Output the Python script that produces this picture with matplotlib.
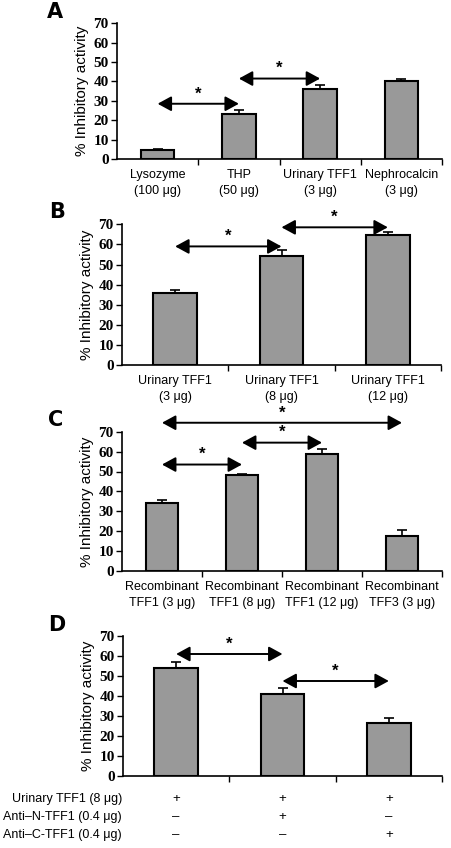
import numpy as np
import matplotlib as mpl
mpl.use('Agg')
import matplotlib.pyplot as plt

# ---- data ----
a_labels = ['Lysozyme\n(100 μg)', 'THP\n(50 μg)', 'Urinary TFF1\n(3 μg)', 'Nephrocalcin\n(3 μg)']
a_vals = [4.5, 23, 36, 40]
a_err = [0.5, 2.5, 2, 1.5]
a_sig = [(0, 1, 28.5), (1, 2, 41.5)]

b_labels = ['Urinary TFF1\n(3 μg)', 'Urinary TFF1\n(8 μg)', 'Urinary TFF1\n(12 μg)']
b_vals = [36, 54, 64.5]
b_err = [1.5, 3, 1.5]
b_sig = [(0, 1, 59), (1, 2, 68.5)]

c_labels = ['Recombinant\nTFF1 (3 μg)', 'Recombinant\nTFF1 (8 μg)',
            'Recombinant\nTFF1 (12 μg)', 'Recombinant\nTFF3 (3 μg)']
c_vals = [34, 48, 59, 17.5]
c_err = [1.5, 0.7, 2.5, 3]
c_sig = [(0, 1, 53.5), (1, 2, 64.5), (0, 3, 74.5)]

d_vals = [54, 41, 26.5]
d_err = [3, 3, 2.5]
d_sig = [(0, 1, 61), (1, 2, 47.5)]
d_rows = ['Urinary TFF1 (8 μg)', 'Anti–N-TFF1 (0.4 μg)', 'Anti–C-TFF1 (0.4 μg)']
d_table = [['+', '+', '+'], ['–', '+', '–'], ['–', '–', '+']]

W, H = 451, 848
fig = plt.figure(figsize=(W / 100, H / 100), dpi=100)

def px_axes(left, right, top, bottom):
    return fig.add_axes([left / W, 1 - bottom / H, (right - left) / W, (bottom - top) / H])

def panel(ax, vals, err, sig, labels, width):
    n = len(vals)
    x = np.arange(n)
    ax.bar(x, vals, width=width, color='#999999', edgecolor='black', linewidth=1.5, zorder=2)
    ax.errorbar(x, vals, yerr=[np.zeros(n), err], fmt='none', ecolor='black',
                elinewidth=1.2, capsize=3.5, capthick=1.2, zorder=3)
    ax.set_xlim(-0.5, n - 0.5)
    ax.set_ylim(0, 70)
    ax.set_yticks(range(0, 71, 10))
    ax.set_yticklabels([str(v) for v in range(0, 71, 10)],
                       fontfamily='Liberation Serif', fontweight='bold', fontsize=11)
    ax.set_xticks(np.arange(n) + 0.5)
    ax.set_xticklabels([])
    ax.tick_params(axis='x', which='major', length=4, width=1, direction='out')
    ax.tick_params(axis='y', length=4, width=1, direction='out', pad=2)
    if labels is not None:
        ax.set_xticks(x, minor=True)
        ax.set_xticklabels(labels, minor=True, fontfamily='Liberation Sans', fontsize=9,
                           linespacing=1.45)
        ax.tick_params(axis='x', which='minor', length=0, pad=7)
    for s in ['top', 'right']:
        ax.spines[s].set_visible(False)
    for s in ['left', 'bottom']:
        ax.spines[s].set_linewidth(1.2)
    ax.set_ylabel('% Inhibitory activity', fontfamily='Liberation Sans', fontsize=11, labelpad=3)
    for i, j, y in sig:
        ax.annotate('', xy=(j, y), xytext=(i, y), xycoords='data',
                    arrowprops=dict(arrowstyle='<|-|>,head_length=0.55,head_width=0.3',
                                    color='black', lw=1.4,
                                    mutation_scale=15, shrinkA=0, shrinkB=0),
                    annotation_clip=False)
        ax.text((i + j) / 2, y + 1.2, '*', ha='center', va='bottom', fontsize=12,
                fontweight='bold', fontfamily='Liberation Sans')

axA = px_axes(117, 442, 23.3, 159)
panel(axA, a_vals, a_err, a_sig, a_labels, 0.41)
axB = px_axes(122, 441, 224.3, 365)
panel(axB, b_vals, b_err, b_sig, b_labels, 0.41)
axC = px_axes(122, 442, 431.7, 571)
panel(axC, c_vals, c_err, c_sig, c_labels, 0.41)
axD = px_axes(123, 442, 636, 776)
panel(axD, d_vals, d_err, d_sig, None, 0.41)

# table below panel D
row_y = [799, 817, 835]
for r, name in enumerate(d_rows):
    fig.text(122 / W, 1 - row_y[r] / H, name, ha='right', va='center',
             fontfamily='Liberation Sans', fontsize=9)
    for k in range(3):
        xd = axD.transData.transform((k, 0))[0]
        fig.text(xd / W, 1 - row_y[r] / H, d_table[r][k], ha='center', va='center',
                 fontfamily='Liberation Sans', fontsize=9.5)

for letter, (lx, ly) in zip('ABCD', [(55, 12), (57, 212), (56, 420), (57, 625)]):
    fig.text(lx / W, 1 - ly / H, letter, ha='center', va='center',
             fontfamily='DejaVu Sans', fontweight='heavy', fontsize=15)

fig.savefig('out.png', dpi=100)
